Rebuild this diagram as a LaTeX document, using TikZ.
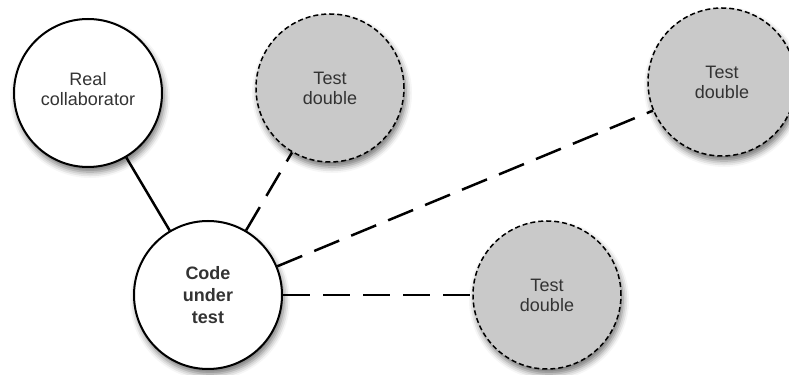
\documentclass[tikz,border=0pt]{standalone}
\usepackage{fontspec}
\setmainfont{Liberation Sans}
\usetikzlibrary{shadows.blur}

\begin{document}
\begin{tikzpicture}[x=0.5pt,y=0.5pt,
		unit/.style={circle,draw=black,line width=1pt,minimum size=74pt,inner sep=0pt,
			align=center,text=black!80,font=\fontsize{9}{10}\selectfont,
			blur shadow={shadow xshift=1pt,shadow yshift=-2.5pt,shadow blur radius=3pt,shadow opacity=55}},
		real/.style={unit,fill=white},
		double/.style={unit,fill=black!21,line width=0.75pt,dash pattern=on 2.5pt off 1.5pt},
		caption/.style={align=center,text=black!80,font=\fontsize{9}{10}\selectfont},
		solidlink/.style={line width=1.25pt},
		fakelink/.style={line width=1.25pt,dash pattern=on 13.5pt off 6.5pt}]
		\useasboundingbox (0,0) rectangle (789,375);
		\node[real,label={[caption,yshift=2.2pt]center:Real\\collaborator}] (collab) at (88,282) {};
		\node[double] (doubleA) at (330,287) {Test\\double};
		\node[double] (doubleB) at (722,293) {Test\\double};
		\node[double] (doubleC) at (547,80) {Test\\double};
		\node[real,font=\fontsize{9}{11}\selectfont\bfseries] (code) at (208,80) {Code\\under\\test};
		\draw[solidlink] (collab) -- (code);
		\draw[fakelink] (code) -- (doubleA);
		\draw[fakelink] (code) -- (doubleB);
		\draw[fakelink] (code) -- (doubleC);
		\end{tikzpicture}
\end{document}
